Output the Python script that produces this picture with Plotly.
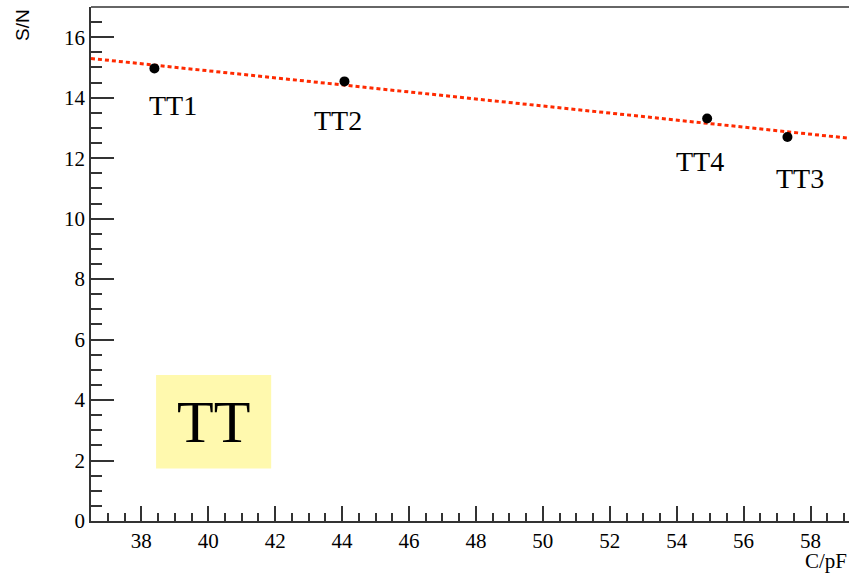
import numpy as np
import plotly.graph_objects as go

# Measured signal-to-noise versus input capacitance for the TT modules
capacitance = [38.39, 44.07, 54.91, 57.31]
signal_noise = [14.97, 14.54, 13.31, 12.70]
module_names = ["TT1", "TT2", "TT4", "TT3"]

x_range = [36.495, 59.15]
y_range = [0, 17]

# label offsets (pixels) relative to each point
label_dx = [19, -6, -7, 13]
label_dy = [-37, -39, -43, -41]

# straight-line fit through the measurements
slope, intercept = np.polyfit(capacitance, signal_noise, 1)
fit_x = np.array(x_range)
fit_y = slope * fit_x + intercept

serif = "Liberation Serif, Times New Roman, serif"
sans = "Liberation Sans, Arial, sans-serif"

fig = go.Figure()
fig.add_trace(go.Scatter(
    x=fit_x, y=fit_y, mode="lines",
    line=dict(color="#ff2a00", width=3, dash="4px,3px"),
    showlegend=False, hoverinfo="skip",
))
fig.add_trace(go.Scatter(
    x=capacitance, y=signal_noise, mode="markers",
    marker=dict(color="black", size=10),
    showlegend=False,
))

for name, xv, yv, dx, dy in zip(module_names, capacitance, signal_noise, label_dx, label_dy):
    fig.add_annotation(
        x=xv, y=yv, text=name, showarrow=False,
        xshift=dx, yshift=dy,
        font=dict(family=serif, size=28, color="black"),
    )

# "TT" tag box
fig.add_shape(
    type="rect", x0=38.44, x1=41.88, y0=1.74, y1=4.83,
    fillcolor="#fff9ae", line=dict(width=0), layer="below",
)
fig.add_annotation(
    x=40.16, y=3.28, text="TT", showarrow=False,
    font=dict(family=serif, size=60, color="black"),
)

# axis titles
fig.add_annotation(
    xref="paper", yref="paper", x=1.0, y=0, yshift=-54,
    xanchor="right", yanchor="bottom", text="C/pF", showarrow=False,
    font=dict(family=serif, size=21, color="black"),
)
fig.add_annotation(
    xref="paper", yref="paper", x=0, y=1.0, xshift=-69, yshift=0,
    xanchor="center", yanchor="top", text="S/N", showarrow=False,
    textangle=-90,
    font=dict(family=sans, size=19, color="black"),
)

axis_common = dict(
    showgrid=False, zeroline=False, showline=True,
    linecolor="#333333", linewidth=1.5,
    ticks="inside", tickcolor="#333333", tickwidth=1.5,
    tickfont=dict(family=serif, size=21, color="black"),
)

fig.update_layout(
    width=849, height=576,
    margin=dict(l=91, r=0, t=7, b=55),
    paper_bgcolor="white", plot_bgcolor="white",
    xaxis=dict(
        range=x_range, dtick=2, tick0=0, ticklen=15,
        minor=dict(dtick=0.5, ticklen=8, ticks="inside", tickcolor="#333333", tickwidth=1.5),
        mirror=False,
        **axis_common,
    ),
    yaxis=dict(
        range=y_range, dtick=2, tick0=0, ticklen=23,
        minor=dict(dtick=0.5, ticklen=11, ticks="inside", tickcolor="#333333", tickwidth=1.5),
        **axis_common,
    ),
)

# top frame line
fig.add_shape(
    type="line", xref="paper", yref="paper", x0=0, x1=1, y0=1, y1=1,
    line=dict(color="#333333", width=1.5),
)

fig.write_html("out.html")
